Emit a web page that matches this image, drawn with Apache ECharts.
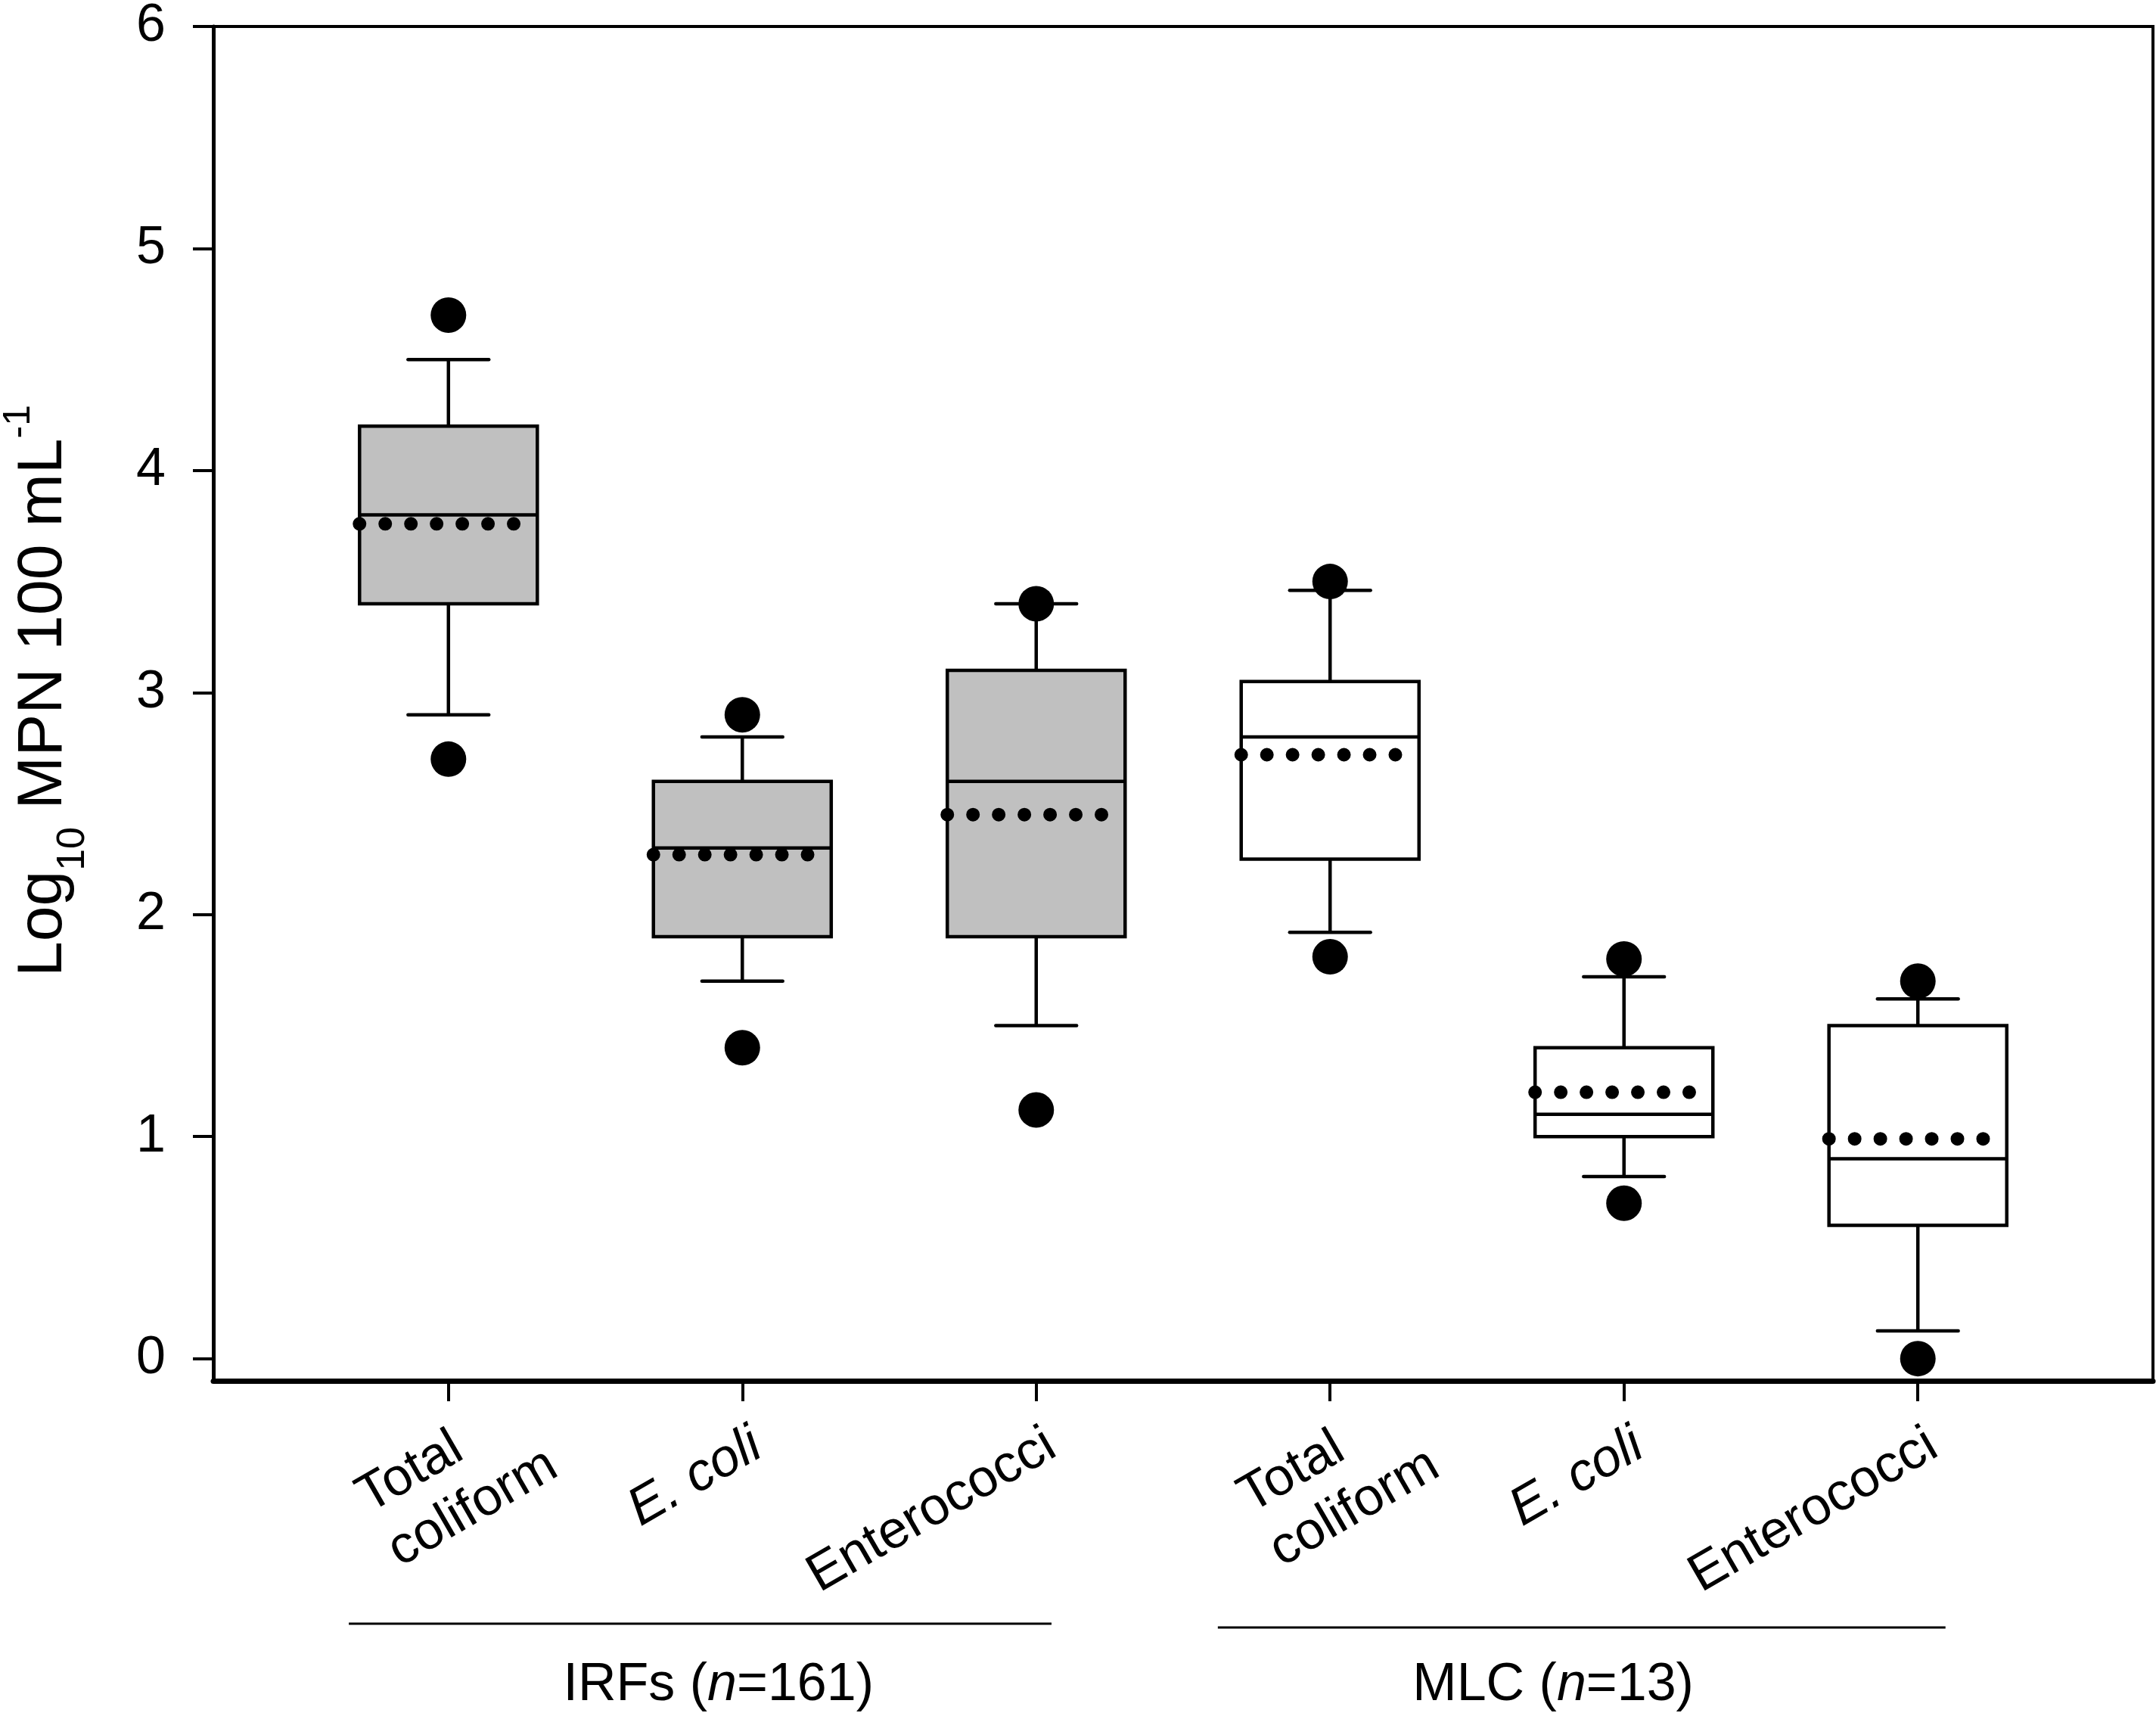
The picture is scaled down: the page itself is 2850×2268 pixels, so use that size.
<!DOCTYPE html>
<html><head><meta charset="utf-8">
<script src="https://cdn.jsdelivr.net/npm/echarts@6/dist/echarts.min.js"></script>
<style>html,body{margin:0;padding:0;background:#fff}#c{width:2850px;height:2268px}</style>
</head><body><div id="c"></div>
<script>
// ---- data ----
const categories = ['Total\ncoliform', 'E. coli', 'Enterococci', 'Total\ncoliform', 'E. coli', 'Enterococci'];
const italicLabel = [false, true, false, false, true, false];
const boxGroup = ['IRF', 'IRF', 'IRF', 'MLC', 'MLC', 'MLC'];
const positions = [1, 2, 3, 4, 5, 6];
const whiskerLow  = [2.9, 1.7, 1.5, 1.92, 0.82, 0.125];
const q1          = [3.4, 1.9, 1.9, 2.25, 1.0, 0.6];
const median      = [3.8, 2.3, 2.6, 2.8, 1.1, 0.9];
const q3          = [4.2, 2.6, 3.1, 3.05, 1.4, 1.5];
const whiskerHigh = [4.5, 2.8, 3.4, 3.46, 1.72, 1.62];
const mean        = [3.76, 2.27, 2.45, 2.72, 1.2, 0.99];
const outlierLow  = [2.7, 1.4, 1.12, 1.81, 0.7, 0.0];
const outlierHigh = [4.7, 2.9, 3.4, 3.5, 1.8, 1.7];
const yTicks = [0, 1, 2, 3, 4, 5, 6];
const groupNames = ['IRFs', 'MLC'];
const groupN = [161, 13];
const yTitleParts = ['Log', '10', ' MPN 100 mL', '-1'];   // normal, subscript, normal, superscript

// ---- style / layout ----
const FONT = '"Liberation Sans", Arial, Helvetica, sans-serif';
const FS = 70;
const BOX_W = 0.605, CAP_W = 0.275;
const fills = { IRF: '#c0c0c0', MLC: '#ffffff' };

const boxData = positions.map((p, i) => [p, whiskerLow[i], q1[i], median[i], q3[i], whiskerHigh[i], mean[i], i]);
const outData = [];
positions.forEach((p, i) => { outData.push([p, outlierLow[i]]); outData.push([p, outlierHigh[i]]); });

function labelText(v) {
  const i = positions.indexOf(Math.round(v));
  if (i < 0) return '';
  const lines = categories[i].split('\n');
  if (lines.length > 1) return lines.map(l => '{w|' + l + '}').join('\n');
  return (italicLabel[i] ? '{i|' : '{n|') + lines[0] + '}';
}

const chart = echarts.init(document.getElementById('c'));
const option = {
  backgroundColor: '#fff',
  animation: false,
  grid: { left: 282, right: 4, top: 28, bottom: 443, show: true, borderColor: '#000', borderWidth: 4, backgroundColor: 'transparent' },
  xAxis: {
    type: 'value', min: 0.2, max: 6.8,
    splitLine: { show: false },
    axisLine: { show: true, onZero: false, lineStyle: { color: '#000', width: 7 } },
    axisTick: { show: true, customValues: positions, length: 27, lineStyle: { color: '#000', width: 4 } },
    axisLabel: {
      show: true, customValues: positions, rotate: 30, margin: 45,
      align: 'right', verticalAlign: 'top', hideOverlap: false,
      formatter: labelText,
      color: '#000', fontFamily: FONT, fontSize: FS,
      rich: {
        w: { width: 156, align: 'left', fontSize: FS, lineHeight: 82, fontFamily: FONT, color: '#000' },
        n: { fontSize: FS, lineHeight: 82, fontFamily: FONT, color: '#000' },
        i: { fontSize: FS, lineHeight: 82, fontFamily: FONT, fontStyle: 'italic', color: '#000' }
      }
    }
  },
  yAxis: {
    type: 'value', min: -0.1, max: 6,
    splitLine: { show: false },
    axisLine: { show: true, onZero: false, lineStyle: { color: '#000', width: 5 } },
    axisTick: { show: true, customValues: yTicks, length: 27, lineStyle: { color: '#000', width: 4 } },
    axisLabel: { show: true, customValues: yTicks, margin: 63, color: '#000', fontFamily: FONT, fontSize: FS, formatter: v => String(v) }
  },
  series: [
    {
      type: 'custom', z: 2,
      data: boxData,
      encode: { x: 0, y: [1, 2, 3, 4, 5] },
      renderItem: function (params, api) {
        const x = api.value(0);
        const idx = api.value(7);
        const bw = api.size([BOX_W, 0])[0];
        const cw = api.size([CAP_W, 0])[0];
        const cx = api.coord([x, 0])[0];
        const yWl = api.coord([x, api.value(1)])[1];
        const yQ1 = api.coord([x, api.value(2)])[1];
        const yMed = api.coord([x, api.value(3)])[1];
        const yQ3 = api.coord([x, api.value(4)])[1];
        const yWh = api.coord([x, api.value(5)])[1];
        const yMean = api.coord([x, api.value(6)])[1];
        const ls = { stroke: '#000', lineWidth: 4.5 };
        const left = cx - bw / 2;
        return {
          type: 'group',
          children: [
            { type: 'line', shape: { x1: cx, y1: yQ3, x2: cx, y2: yWh }, style: ls },
            { type: 'line', shape: { x1: cx - cw / 2, y1: yWh, x2: cx + cw / 2, y2: yWh }, style: Object.assign({ lineCap: 'round' }, ls) },
            { type: 'line', shape: { x1: cx, y1: yQ1, x2: cx, y2: yWl }, style: ls },
            { type: 'line', shape: { x1: cx - cw / 2, y1: yWl, x2: cx + cw / 2, y2: yWl }, style: Object.assign({ lineCap: 'round' }, ls) },
            { type: 'rect', shape: { x: left, y: yQ3, width: bw, height: yQ1 - yQ3 }, style: { fill: fills[boxGroup[idx]], stroke: '#000', lineWidth: 4.5, lineJoin: 'miter' } },
            { type: 'line', shape: { x1: left, y1: yMed, x2: left + bw, y2: yMed }, style: ls },
            { type: 'line', shape: { x1: left, y1: yMean, x2: left + bw * 0.875, y2: yMean }, style: { stroke: '#000', lineWidth: 18, lineCap: 'round', lineDash: [0, bw * 0.1445] } }
          ]
        };
      }
    },
    {
      type: 'scatter', z: 3,
      data: outData,
      symbol: 'circle', symbolSize: 47,
      itemStyle: { color: '#000', opacity: 1 }
    }
  ]
};
chart.setOption(option);

// ---- annotations below the axis (group brackets) ----
const xp = v => chart.convertToPixel({ xAxisIndex: 0 }, v);
const groupLine = [[0.661, 3.052, 2146], [3.618, 6.094, 2151]];
const groupLabelX = [1.919, 4.759];
const rich = {
  t: { fontSize: FS, fontFamily: FONT, fill: '#000' },
  it: { fontSize: FS, fontFamily: FONT, fontStyle: 'italic', fill: '#000' }
};
const graphics = [];
groupLine.forEach((g, k) => {
  graphics.push({ type: 'line', silent: true, shape: { x1: xp(g[0]), y1: g[2], x2: xp(g[1]), y2: g[2] }, style: { stroke: '#000', lineWidth: 3 } });
  graphics.push({
    type: 'text', silent: true, x: xp(groupLabelX[k]), y: 2228,
    style: { text: '{t|' + groupNames[k] + ' (}{it|n}{t|=' + groupN[k] + ')}', rich: rich, align: 'center', verticalAlign: 'middle', fontSize: FS, fontFamily: FONT, fill: '#000' }
  });
});

// y axis title: pieces rotated 90deg, reading bottom to top, with sub/superscript
const titleSizes = [84, 52, 84, 50];
const titleBaseX = [87, 115, 87, 43];   // screen x of each piece's baseline (text "down" = screen right)
const mctx = document.createElement('canvas').getContext('2d');
let ty = 1291;
yTitleParts.forEach((txt, k) => {
  const f = titleSizes[k];
  mctx.font = f + 'px ' + FONT;
  const w = mctx.measureText(txt).width;
  graphics.push({
    type: 'text', silent: true, x: titleBaseX[k] - 0.3465 * f, y: ty, rotation: Math.PI / 2,
    style: { text: txt, fontSize: f, fontFamily: FONT, fill: '#000', align: 'left', verticalAlign: 'middle' }
  });
  ty -= w;
});
chart.setOption({ graphic: graphics });
</script>
</body></html>
